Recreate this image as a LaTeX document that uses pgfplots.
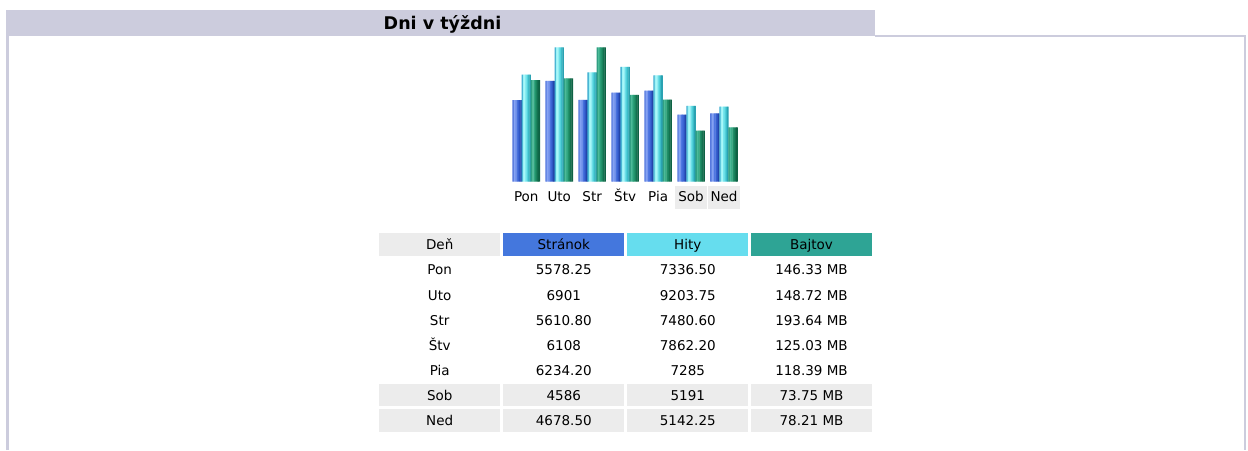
\documentclass[border=0pt]{standalone}
\usepackage{pgfplots}
\usepackage{pgfplotstable}
\pgfplotsset{compat=1.18}
\usepackage{fontspec}
\setmainfont{DejaVu Sans}
\definecolor{titlebg}{HTML}{CCCCDD}
\definecolor{framec}{HTML}{CCCCDD}
\definecolor{rowgray}{HTML}{ECECEC}
\definecolor{cp}{HTML}{4477DD}
\definecolor{ch}{HTML}{66DDEE}
\definecolor{ck}{HTML}{2EA495}
% stripe colours of the cylinder-like bars (left to right)
\definecolor{b0}{HTML}{5679DE}\definecolor{b1}{HTML}{86A4F2}\definecolor{b2}{HTML}{7896EE}\definecolor{b3}{HTML}{4F78E2}\definecolor{b4}{HTML}{3D66D6}\definecolor{b5}{HTML}{2E55C4}\definecolor{b6}{HTML}{2345AA}
\definecolor{h0}{HTML}{3FAED0}\definecolor{h1}{HTML}{9CF2F6}\definecolor{h2}{HTML}{A8F8F8}\definecolor{h3}{HTML}{78E6EE}\definecolor{h4}{HTML}{55D2DC}\definecolor{h5}{HTML}{3CBCC8}\definecolor{h6}{HTML}{2AA2B2}
\definecolor{k0}{HTML}{2E9C80}\definecolor{k1}{HTML}{4DBA98}\definecolor{k2}{HTML}{3AAE8A}\definecolor{k3}{HTML}{24966E}\definecolor{k4}{HTML}{1A845E}\definecolor{k5}{HTML}{137250}\definecolor{k6}{HTML}{0E6244}
\pgfplotstableread{
x pages hits
0 5578.25 7336.50
1 6901 9203.75
2 5610.80 7480.60
3 6108 7862.20
4 6234.20 7285
5 4586 5191
6 4678.50 5142.25
}\tabPH
\pgfplotstableread{
x bytes
0 146.33
1 148.72
2 193.64
3 125.03
4 118.39
5 73.75
6 78.21
}\tabK
\newcommand{\graylab}[1]{{\setlength{\fboxsep}{0pt}\colorbox{rowgray}{\makebox[31.7pt]{\rule[-6.8pt]{0pt}{22.6pt}#1}}}}
\begin{document}
\begin{tikzpicture}[font=\fontsize{13.5}{16}\selectfont]
\path[use as bounding box, fill=white] (0pt,0pt) rectangle (1248pt,450pt);
% title bar and frame
\fill[titlebg] (6pt,414pt) rectangle (875pt,440pt);
\draw[framec, line width=2.6pt] (7.3pt,0pt) -- (7.3pt,414pt);
\draw[framec, line width=2pt] (875pt,414pt) -- (1244.5pt,414pt) -- (1244.5pt,0pt);
\node[anchor=base, font=\bfseries\fontsize{17.5}{19}\selectfont, inner sep=0pt] at (442.5pt,420pt) {Dni v týždni};
% pages and hits (shared scale)
\begin{axis}[
  at={(509.8pt,268.3pt)}, anchor=south west,
  scale only axis, width=230.7pt, height=134.4pt,
  xmin=-0.5, xmax=6.5, ymin=0, ymax=9203.75,
  ybar, bar width=1.6pt, clip=false,
  axis line style={draw=none}, tick style={draw=none},
  ytick=\empty, xtick={0,1,2,3,4,5,6},
  xticklabels={Pon,Uto,Str,Štv,Pia,\graylab{Sob},\graylab{Ned}},
  xticklabel style={anchor=base, yshift=-15.8pt, inner sep=0pt, font=\fontsize{13.5}{16}\selectfont},
]
\pgfplotsinvokeforeach{0,...,6}{
  \addplot[draw=none, fill=b#1, bar shift={-9.1pt-3.9pt+1.3pt*#1}] table[x=x, y=pages] {\tabPH};
}
\pgfplotsinvokeforeach{0,...,6}{
  \addplot[draw=none, fill=h#1, bar shift={-3.9pt+1.3pt*#1}] table[x=x, y=hits] {\tabPH};
}
\end{axis}
% bytes (own scale)
\begin{axis}[
  at={(509.8pt,268.3pt)}, anchor=south west,
  scale only axis, width=230.7pt, height=134.4pt,
  xmin=-0.5, xmax=6.5, ymin=0, ymax=193.64,
  ybar, bar width=1.6pt, clip=false, hide axis,
]
\pgfplotsinvokeforeach{0,...,6}{
  \addplot[draw=none, fill=k#1, bar shift={9.1pt-3.9pt+1.3pt*#1}] table[x=x, y=bytes] {\tabK};
}
\end{axis}
% table
\fill[rowgray] (379.3pt,194.3pt) rectangle (500pt,216.7pt);
\fill[cp] (503.3pt,194.3pt) rectangle (624.3pt,216.7pt);
\fill[ch] (627.3pt,194.3pt) rectangle (748.3pt,216.7pt);
\fill[ck] (751pt,194.3pt) rectangle (872pt,216.7pt);
\foreach \yb in {43.7,18.5}{
  \fill[rowgray] (379.3pt,\yb pt) rectangle (500pt,\yb pt+22.2pt);
  \fill[rowgray] (503.3pt,\yb pt) rectangle (624.3pt,\yb pt+22.2pt);
  \fill[rowgray] (627.3pt,\yb pt) rectangle (748.3pt,\yb pt+22.2pt);
  \fill[rowgray] (751pt,\yb pt) rectangle (872pt,\yb pt+22.2pt);
}
\foreach \a/\b/\c/\d [count=\i from 0] in {Deň/Stránok/Hity/Bajtov, Pon/5578.25/7336.50/146.33 MB, Uto/6901/9203.75/148.72 MB, Str/5610.80/7480.60/193.64 MB, Štv/6108/7862.20/125.03 MB, Pia/6234.20/7285/118.39 MB, Sob/4586/5191/73.75 MB, Ned/4678.50/5142.25/78.21 MB}{
  \pgfmathsetmacro{\yy}{200.2-25.17*\i}
  \node[anchor=base, inner sep=0pt] at (439.7pt,\yy pt) {\a};
  \node[anchor=base, inner sep=0pt] at (563.8pt,\yy pt) {\b};
  \node[anchor=base, inner sep=0pt] at (687.8pt,\yy pt) {\c};
  \node[anchor=base, inner sep=0pt] at (811.5pt,\yy pt) {\d};
}
\end{tikzpicture}
\end{document}
